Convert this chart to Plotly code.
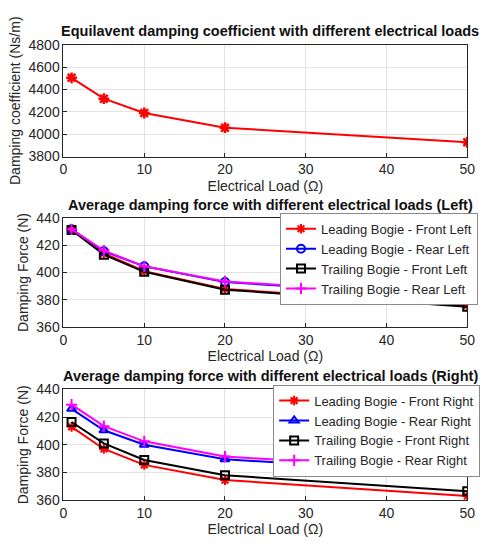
import plotly.graph_objects as go

loads = [1, 5, 10, 20, 50]
coef = [4505, 4318, 4190, 4058, 3928]

left_names = ["Leading Bogie - Front Left", "Leading Bogie - Rear Left",
              "Trailing Bogie - Front Left", "Trailing Bogie - Rear Left"]
left_lf = [431, 414, 401, 388, 376]
left_lr = [431.5, 415.5, 404.5, 393, 382]
left_tf = [431, 413, 400.5, 387.5, 375]
left_tr = [431.5, 416, 404.5, 393.5, 382]

right_names = ["Leading Bogie - Front Right", "Leading Bogie - Rear Right",
               "Trailing Bogie - Front Right", "Trailing Bogie - Rear Right"]
right_lf = [413, 397, 385.5, 374.5, 363]
right_lr = [426, 410.5, 400, 389.5, 379]
right_tf = [416.5, 401, 389, 378, 366.5]
right_tr = [429, 413.5, 402.5, 391.5, 381]

titles = ["Equilavent damping coefficient with different electrical loads",
          "Average damping force with different electrical loads (Left)",
          "Average damping force with different electrical loads (Right)"]
xlabel = "Electrical Load (\u03a9)"
ylabels = ["Damping coefficient (Ns/m)", "Damping Force (N)", "Damping Force (N)"]

W, H = 484, 546
FONT = "Liberation Sans, Arial, sans-serif"
TXT = "#262626"

def py(p):
    return 1 - p / H

fig = go.Figure()

xdom = [61 / W, 475 / W]
ydoms = [[py(153), py(38)], [py(329), py(216)], [py(507), py(393)]]

colors = ["red", "blue", "black", "magenta"]
left_sym = ["asterisk-open", "circle-open", "square-open", "cross-thin-open"]
right_sym = ["asterisk-open", "triangle-up-open", "square-open", "cross-thin-open"]

fig.add_trace(go.Scatter(x=loads, y=coef, mode="lines+markers", showlegend=False,
                         line=dict(color="red", width=2),
                         marker=dict(symbol="asterisk-open", size=9, color="red",
                                     line=dict(color="red", width=2.5)),
                         xaxis="x", yaxis="y"))

for vals, name, c, s in zip([left_lf, left_lr, left_tf, left_tr], left_names, colors, left_sym):
    fig.add_trace(go.Scatter(x=loads, y=vals, mode="lines+markers", name=name,
                             line=dict(color=c, width=2),
                             marker=dict(symbol=s, size=8, color=c, line=dict(color=c, width=2)),
                             xaxis="x2", yaxis="y2", legend="legend"))

for vals, name, c, s in zip([right_lf, right_lr, right_tf, right_tr], right_names, colors, right_sym):
    fig.add_trace(go.Scatter(x=loads, y=vals, mode="lines+markers", name=name,
                             line=dict(color=c, width=2),
                             marker=dict(symbol=s, size=8, color=c, line=dict(color=c, width=2)),
                             xaxis="x3", yaxis="y3", legend="legend2"))

axis_common = dict(showline=True, mirror=True, linecolor=TXT, linewidth=1,
                   ticks="inside", ticklen=4, tickcolor=TXT,
                   showgrid=True, gridcolor="#e3e3e3", gridwidth=1, zeroline=False,
                   tickfont=dict(family=FONT, size=14, color=TXT))

yranges = [[3800, 4800], [360, 440], [360, 440]]
ydticks = [200, 20, 20]
layout = dict(width=W, height=H, margin=dict(l=0, r=0, t=0, b=0),
              paper_bgcolor="white", plot_bgcolor="white",
              font=dict(family=FONT, color=TXT))
for i in range(3):
    sx = "" if i == 0 else str(i + 1)
    layout["xaxis" + sx] = dict(axis_common, domain=xdom, range=[0, 50], dtick=10,
                                anchor="y" + sx,
                                title=dict(text=xlabel, standoff=4,
                                           font=dict(family=FONT, size=14, color=TXT)))
    layout["yaxis" + sx] = dict(axis_common, domain=ydoms[i], range=yranges[i],
                                dtick=ydticks[i], anchor="x" + sx,
                                title=dict(text=ylabels[i], standoff=4,
                                           font=dict(family=FONT, size=14, color=TXT)))

legend_common = dict(bgcolor="white", bordercolor="#8a8a8a", borderwidth=1,
                     font=dict(family=FONT, size=13, color=TXT),
                     xanchor="left", yanchor="top", tracegroupgap=0,
                     itemwidth=30)
layout["legend"] = dict(legend_common, x=283 / W, y=py(211))
layout["legend2"] = dict(legend_common, x=276 / W, y=py(388))

title_y = [24, 203, 379]
annotations = []
for t, ty in zip(titles, title_y):
    annotations.append(dict(text="<b>" + t + "</b>", x=(xdom[0] + xdom[1]) / 2 + 0.01,
                            y=py(ty), xref="paper", yref="paper", showarrow=False,
                            xanchor="center", yanchor="middle",
                            font=dict(family=FONT, size=14.5, color="#111111")))
layout["annotations"] = annotations

fig.update_layout(**layout)
fig.write_html("out.html")
